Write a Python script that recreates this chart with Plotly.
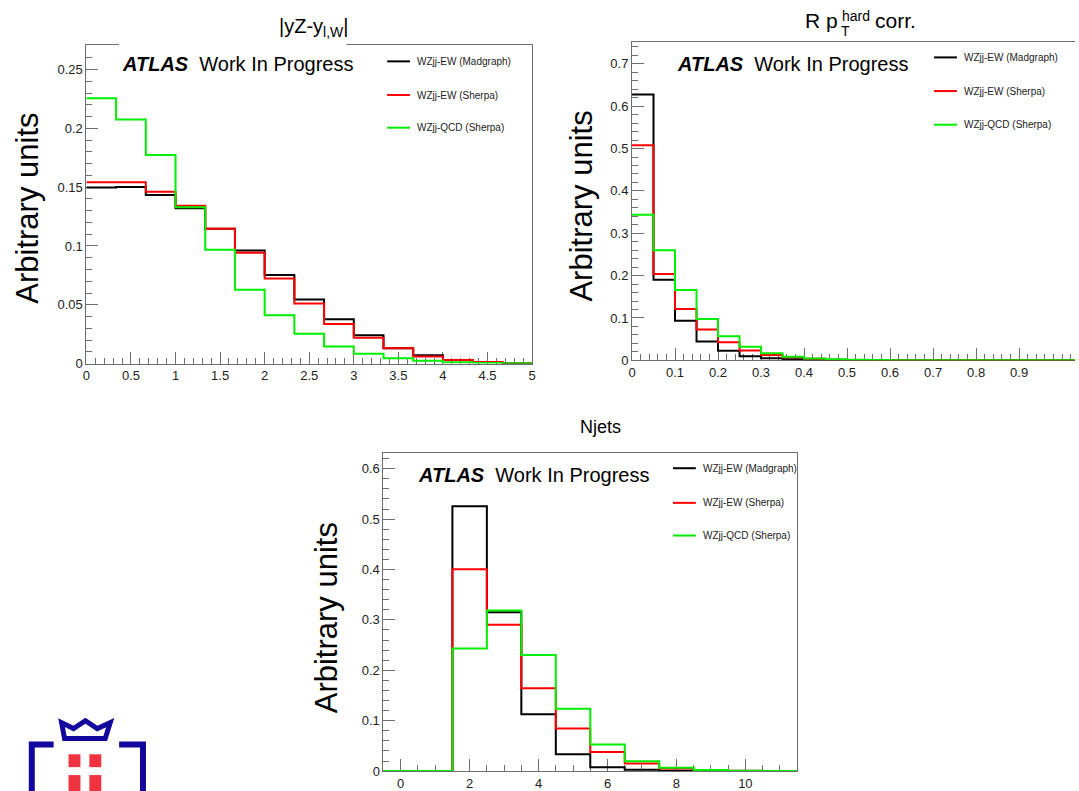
import numpy as np
import plotly.graph_objects as go

W, H = 1079, 791
FONT = "Liberation Sans, Arial, Helvetica, sans-serif"
C_MG, C_SH, C_QCD = "#000000", "#ff0000", "#00ee00"

# ---------------- data ----------------
series_names = ["WZjj-EW (Madgraph)", "WZjj-EW (Sherpa)", "WZjj-QCD (Sherpa)"]

# |yZ - y_{l,W}| : 15 bins from 0 to 5
yz_lo, yz_hi, yz_nbins = 0.0, 5.0, 15
yz_ew_mg = [0.1498, 0.1502, 0.1433, 0.1321, 0.1147, 0.0962, 0.0754, 0.0544,
            0.0376, 0.0241, 0.0131, 0.0070, 0.0030, 0.0013, 0.0]
yz_ew_sh = [0.1543, 0.1543, 0.1461, 0.1343, 0.1147, 0.0943, 0.0724, 0.0510,
            0.0337, 0.0219, 0.0131, 0.0061, 0.0030, 0.0013, 0.0]
yz_qcd = [0.2256, 0.2076, 0.1773, 0.1330, 0.0968, 0.0628, 0.0412, 0.0253,
          0.0146, 0.0084, 0.0045, 0.0025, 0.0011, 0.0005, 0.0002]

# R pT(hard) corr. : bins of 0.05 from 0
rpt_lo, rpt_hi, rpt_nbins = 0.0, 1.05, 21
rpt_ew_mg = [0.6275, 0.1900, 0.0935, 0.0444, 0.0226, 0.0094, 0.0047, 0.0023,
             0.0010, 0.0004, 0.0002, 0, 0, 0, 0, 0, 0, 0, 0, 0, 0]
rpt_ew_sh = [0.5080, 0.2040, 0.1210, 0.0725, 0.0428, 0.0234, 0.0125, 0.0070,
             0.0035, 0.0015, 0.0007, 0.0003, 0, 0, 0, 0, 0, 0, 0, 0, 0]
rpt_qcd = [0.3440, 0.2600, 0.1660, 0.0975, 0.0568, 0.0320, 0.0164, 0.0087,
           0.0045, 0.0023, 0.0012, 0.0006, 0.0003, 0.0001, 0, 0, 0, 0, 0, 0, 0]
rpt_ticks = [0, 0.1, 0.2, 0.3, 0.4, 0.5, 0.6, 0.7, 0.8, 0.9]

# Njets : unit bins centred on 0..11
nj_lo, nj_hi, nj_nbins = -0.5, 11.5, 12
nj_ew_mg = [0, 0, 0.5255, 0.3154, 0.1126, 0.0334, 0.0079, 0.0026, 0.0008, 0.0003, 0, 0]
nj_ew_sh = [0, 0, 0.4005, 0.2906, 0.1643, 0.0844, 0.0380, 0.0150, 0.0052, 0.0015, 0.0005, 0]
nj_qcd = [0, 0, 0.2435, 0.3187, 0.2304, 0.1237, 0.0530, 0.0196, 0.0065, 0.0020, 0.0007, 0.0002]

# ---------------- helpers ----------------
def px(x):
    return x / W


def py(y):
    return 1 - y / H


def step_xy(lo, hi, n, vals):
    edges = np.linspace(lo, hi, n + 1)
    return edges, list(vals) + [vals[-1]]


fig = go.Figure()

panels = [
    dict(x="x", y="y", lo=yz_lo, hi=yz_hi, n=yz_nbins, data=[yz_ew_mg, yz_ew_sh, yz_qcd]),
    dict(x="x2", y="y2", lo=rpt_lo, hi=rpt_hi, n=rpt_nbins, data=[rpt_ew_mg, rpt_ew_sh, rpt_qcd]),
    dict(x="x3", y="y3", lo=nj_lo, hi=nj_hi, n=nj_nbins, data=[nj_ew_mg, nj_ew_sh, nj_qcd]),
]
colors = [C_MG, C_SH, C_QCD]

for p in panels:
    for name, vals, col in zip(series_names, p["data"], colors):
        xs, ys = step_xy(p["lo"], p["hi"], p["n"], vals)
        fig.add_trace(go.Scatter(
            x=xs, y=ys, mode="lines", name=name, line=dict(color=col, width=2, shape="hv"),
            xaxis=p["x"], yaxis=p["y"], showlegend=False, hoverinfo="skip"))

frame_col = "#6e6e6e"
tickfont = dict(family=FONT, size=13, color="#222222")


def axis(domain, rng, dtick, minor_dtick, mirror=True, **kw):
    d = dict(domain=domain, range=rng, dtick=dtick, tick0=0, showgrid=False, zeroline=False,
             showline=True, linecolor=frame_col, linewidth=1, mirror=mirror,
             ticks="inside", ticklen=12, tickcolor=frame_col, tickwidth=1,
             tickfont=tickfont, layer="below traces",
             minor=dict(dtick=minor_dtick, tick0=0, ticks="inside", ticklen=6,
                        tickcolor=frame_col, tickwidth=1, showgrid=False))
    d.update(kw)
    return d


fig.update_layout(
    width=W, height=H, margin=dict(l=0, r=0, t=0, b=0),
    paper_bgcolor="white", plot_bgcolor="white", showlegend=False,
    font=dict(family=FONT),
    xaxis=axis([px(83), px(532)], [0, 5], 0.5, 0.1, anchor="y"),
    yaxis=axis([py(367.3), py(45.7)], [0, 0.2707], 0.05, 0.01, anchor="x"),
    xaxis2=axis([px(632.7), 1.0], [0, (1079 - 632.7) / 433.3], None, 0.02, anchor="y2",
                tickmode="array", tickvals=rpt_ticks),
    yaxis2=axis([py(364), py(42.3)], [0, 0.752], 0.1, 0.02, mirror=False, anchor="x2"),
    xaxis3=axis([px(382.3), px(799)], [-0.5, 11.5], 2, 0.5, anchor="y3"),
    yaxis3=axis([py(779), py(457.7)], [0, 0.631], 0.1, 0.02, anchor="x3"),
)

ann = []
shapes = []

# white label box hiding part of the first frame's top border
shapes.append(dict(type="rect", xref="paper", yref="paper", layer="above",
                   x0=px(116), x1=px(345), y0=py(48), y1=py(42),
                   fillcolor="white", line=dict(width=0)))


def text(x, y, s, size, xanchor="left", yanchor="middle", angle=0, color="#000"):
    ann.append(dict(x=px(x), y=py(y), xref="paper", yref="paper", text=s, showarrow=False,
                    xanchor=xanchor, yanchor=yanchor, textangle=angle,
                    font=dict(family=FONT, size=size, color=color)))


# panel titles
text(312, 28, "|yZ-y<sub>l,W</sub>|", 20, xanchor="center")
text(842, 34, "R p", 21, xanchor="right", yanchor="bottom")
text(842, 6, "hard", 14, xanchor="left", yanchor="top")
text(841, 41, "T", 14, xanchor="left", yanchor="bottom")
text(875, 34, "corr.", 21, xanchor="left", yanchor="bottom")
text(601, 431, "Njets", 18, xanchor="center")

# y-axis titles
for cx, cy in [(24, 210), (582, 208), (325, 624)]:
    text(cx, cy, "Arbitrary units", 31, xanchor="center", angle=-90)

# ATLAS labels
atlas = "<b><i>ATLAS</i></b>\u00a0\u00a0Work In Progress"
for x0, y0 in [(117, 65), (676, 65), (415, 480)]:
    text(x0, y0, atlas, 20)

# legends
for lx, rows in [(386, [62, 96, 129]), (937, [58, 92, 126]), (674, [473, 508, 541])]:
    for name, col, ry in zip(series_names, colors, rows):
        shapes.append(dict(type="line", xref="paper", yref="paper", x0=px(lx), x1=px(lx + 23),
                           y0=py(ry), y1=py(ry), line=dict(color=col, width=2)))
        text(lx + 28, ry, name, 10, color="#222")

# emblem in the lower-left corner
navy, red = "#12069c", "#ef3340"
lw = 6
shapes += [
    dict(type="path", xref="paper", yref="paper",
         path=f"M {px(50)} {py(752)} L {px(28)} {py(752)} L {px(28)} {py(805)}",
         line=dict(color=navy, width=lw)),
    dict(type="path", xref="paper", yref="paper",
         path=f"M {px(116)} {py(752)} L {px(140)} {py(752)} L {px(140)} {py(805)}",
         line=dict(color=navy, width=lw)),
    dict(type="path", xref="paper", yref="paper",
         path=(f"M {px(58)} {py(730)} L {px(61)} {py(746)} L {px(102)} {py(746)} "
               f"L {px(107)} {py(730)} L {px(94)} {py(736)} L {px(82)} {py(728)} "
               f"L {px(70)} {py(736)} Z"),
         line=dict(color=navy, width=5)),
]
for sx0, sx1 in [(65, 77), (86, 98)]:
    for sy0, sy1 in [(762, 775), (783, 800)]:
        shapes.append(dict(type="rect", xref="paper", yref="paper",
                           x0=px(sx0), x1=px(sx1), y0=py(sy1), y1=py(sy0),
                           fillcolor=red, line=dict(width=0)))

fig.update_layout(annotations=ann, shapes=shapes)
fig.write_html("out.html")
